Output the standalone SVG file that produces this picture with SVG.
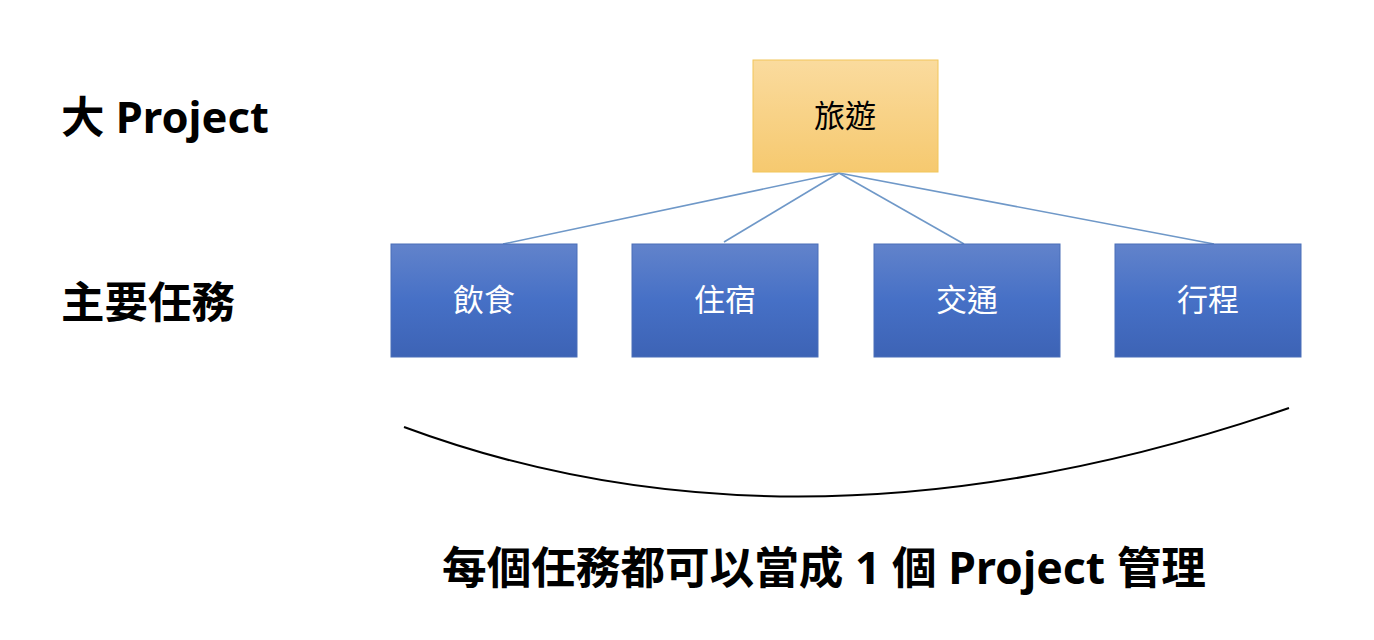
<svg xmlns="http://www.w3.org/2000/svg" width="1374" height="640" viewBox="0 0 1374 640">
<defs>
<linearGradient id="gTop" x1="0" y1="0" x2="0" y2="1">
<stop offset="0" stop-color="#fadb9e"/>
<stop offset="1" stop-color="#f6c96f"/>
</linearGradient>
<linearGradient id="gBlue" x1="0" y1="0" x2="0" y2="1">
<stop offset="0" stop-color="#6283cb"/>
<stop offset="0.5" stop-color="#4670c6"/>
<stop offset="1" stop-color="#3d63b5"/>
</linearGradient>
<style>
.top{fill:url(#gTop);stroke:#f2c65a;stroke-width:1}
.blue{fill:url(#gBlue);stroke:#4a6fb8;stroke-width:1}
.nt{font-family:"Noto Sans CJK TC","Noto Sans",sans-serif;font-size:31px;text-anchor:middle}
.lbl{font-family:"Noto Sans","Noto Sans CJK TC",sans-serif;font-weight:bold;fill:#000}
.con{stroke:#6f98c8;stroke-width:1.6;fill:none}
</style>
</defs>
<rect width="1374" height="640" fill="#ffffff"/>
<g id="connectors">
<line class="con" x1="839" y1="173" x2="503" y2="244"/>
<line class="con" x1="839" y1="173" x2="724" y2="242"/>
<line class="con" x1="839" y1="173" x2="964" y2="244"/>
<line class="con" x1="839" y1="173" x2="1214" y2="244"/>
</g>
<g id="node-travel">
<rect class="top" x="753" y="60" width="185" height="112"/>
<text class="nt" x="845" y="127" fill="#000">旅遊</text>
</g>
<g id="node-food">
<rect class="blue" x="391" y="244" width="186" height="113"/>
<text class="nt" x="484" y="311" fill="#fff">飲食</text>
</g>
<g id="node-stay">
<rect class="blue" x="632" y="244" width="186" height="113"/>
<text class="nt" x="725" y="311" fill="#fff">住宿</text>
</g>
<g id="node-transport">
<rect class="blue" x="874" y="244" width="186" height="113"/>
<text class="nt" x="967" y="311" fill="#fff">交通</text>
</g>
<g id="node-itinerary">
<rect class="blue" x="1115" y="244" width="186" height="113"/>
<text class="nt" x="1208" y="311" fill="#fff">行程</text>
</g>
<g id="brace">
<path d="M404,427 Q803,575 1289,408" fill="none" stroke="#000" stroke-width="2"/>
</g>
<g id="labels">
<text class="lbl" x="61" y="133" font-size="43.5">大 Project</text>
<text class="lbl" x="61" y="318" font-size="43.5">主要任務</text>
<text class="lbl" x="824" y="584" font-size="44.6" text-anchor="middle">每個任務都可以當成 1 個 Project 管理</text>
</g>
</svg>
